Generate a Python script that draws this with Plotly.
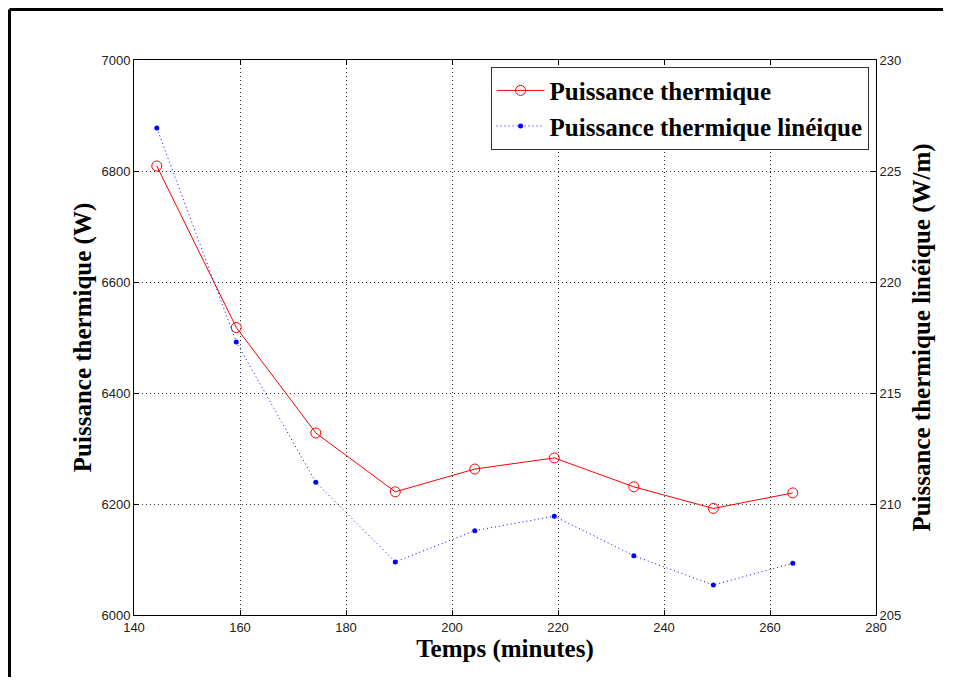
import plotly.graph_objects as go

# Data
temps = [144.3, 159.3, 174.3, 189.3, 204.3, 219.3, 234.3, 249.3, 264.3]
puissance = [6809, 6518, 6328, 6222, 6263, 6283, 6231, 6192, 6220]
puissance_lineique = [226.94, 217.3, 210.98, 207.39, 208.8, 209.45, 207.67, 206.35, 207.33]

x_ticks = [140, 160, 180, 200, 220, 240, 260, 280]
y_ticks = [6000, 6200, 6400, 6600, 6800, 7000]
y2_ticks = [205, 210, 215, 220, 225, 230]

fig = go.Figure()
fig.add_trace(go.Scatter(
    x=temps, y=puissance, name="Puissance thermique",
    mode="lines+markers",
    line=dict(color="#ff0000", width=1),
    marker=dict(symbol="circle-open", size=10, color="#ff0000", line=dict(width=1, color="#ff0000")),
    yaxis="y"))
fig.add_trace(go.Scatter(
    x=temps, y=puissance_lineique, name="Puissance thermique linéique",
    mode="lines+markers",
    line=dict(color="#0000ff", width=1, dash="1px,3px"),
    marker=dict(symbol="circle", size=5, color="#0000ff"),
    yaxis="y2"))

tickfont = dict(family="Liberation Sans, Arial, sans-serif", size=13, color="#222222")
titlefont = dict(family="Liberation Serif, Times New Roman, serif", size=25, color="black", weight="bold")

GRID = "#303030"
fig.update_layout(
    width=938, height=669,
    margin=dict(l=126, r=70, t=52, b=62),
    paper_bgcolor="white", plot_bgcolor="white",
    showlegend=True,
    legend=dict(
        x=0.99, y=0.988, xanchor="right", yanchor="top",
        bgcolor="white", bordercolor="#333333", borderwidth=1,
        itemwidth=48,
        font=dict(family="Liberation Serif, Times New Roman, serif", size=25, color="black", weight="bold"),
    ),
    xaxis=dict(
        range=[140, 280], tickvals=x_ticks, ticktext=[str(v) for v in x_ticks],
        showline=True, linecolor="black", linewidth=1, mirror="ticks",
        ticks="inside", ticklen=5, tickcolor="black",
        showgrid=True, gridcolor=GRID, griddash="1px,3px", gridwidth=1,
        zeroline=False, tickfont=tickfont,
        title=dict(text="Temps (minutes)", font=titlefont, standoff=5),
    ),
    yaxis=dict(
        range=[6000, 7000], tickvals=y_ticks, ticktext=[str(v) for v in y_ticks],
        showline=True, linecolor="black", linewidth=1,
        ticks="inside", ticklen=5, tickcolor="black",
        showgrid=True, gridcolor=GRID, griddash="1px,3px", gridwidth=1,
        zeroline=False, tickfont=tickfont,
        title=dict(text="Puissance thermique (W)", font=titlefont, standoff=2),
    ),
    yaxis2=dict(
        range=[205, 230], tickvals=y2_ticks, ticktext=[str(v) for v in y2_ticks],
        overlaying="y", side="right",
        showline=True, linecolor="black", linewidth=1,
        ticks="inside", ticklen=5, tickcolor="black",
        showgrid=False, zeroline=False, tickfont=tickfont,
        title=dict(text="Puissance thermique linéique (W/m)", font=titlefont, standoff=12),
    ),
    shapes=[
        dict(type="line", xref="paper", yref="paper", x0=-0.1678, x1=1.0903, y0=1.091, y1=1.091,
             line=dict(color="black", width=3)),
        dict(type="line", xref="paper", yref="paper", x0=-0.1678, x1=-0.1678, y0=1.091, y1=-0.2,
             line=dict(color="black", width=3)),
    ],
)

fig.write_html("out.html")
